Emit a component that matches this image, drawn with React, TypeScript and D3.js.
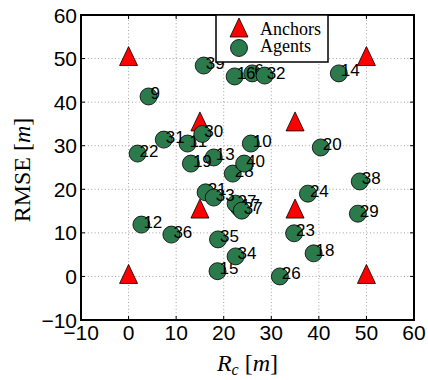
import React from 'react';
import * as d3 from 'd3';

// anchor positions
const anchorX = [0, 0, 50, 50, 15, 15, 35, 35];
const anchorY = [0, 50, 0, 50, 35, 15, 35, 15];

// agents (id, x, y)
const agentId = [6, 9, 10, 11, 12, 13, 14, 15, 16, 17, 18, 19, 20, 21, 22, 23, 24, 26, 27, 28, 29, 30, 31, 32, 33, 34, 35, 36, 37, 38, 39, 40];
const agentX = [26.0, 4.2, 25.7, 12.4, 2.7, 17.9, 44.2, 18.7, 22.3, 23.2, 38.9, 13.1, 40.4, 16.2, 1.9, 34.8, 37.7, 31.8, 22.5, 21.9, 48.2, 15.5, 7.4, 28.6, 17.9, 22.5, 18.8, 9.0, 23.8, 48.6, 15.8, 24.3];
const agentY = [46.6, 41.3, 30.5, 30.5, 11.9, 27.3, 46.6, 1.2, 45.9, 15.8, 5.3, 25.9, 29.6, 19.3, 28.2, 9.9, 19.0, 0.0, 16.7, 23.6, 14.4, 32.7, 31.4, 46.1, 18.1, 4.6, 8.5, 9.6, 15.1, 21.8, 48.4, 25.9];

const xTicks = [-10, 0, 10, 20, 30, 40, 50, 60];
const yTicks = [-10, 0, 10, 20, 30, 40, 50, 60];

const W = 428;
const H = 380;
const margin = { left: 81, right: 14, top: 15, bottom: 60 };

const green = '#2b7a4b';
const sans = '"Liberation Sans", Arial, sans-serif';
const serif = '"Liberation Serif", "Times New Roman", serif';

const tri = (cx: number, cy: number) =>
  `M${cx},${cy - 12}L${cx + 9},${cy + 7}L${cx - 9},${cy + 7}Z`;

const fmt = (v: number) => (v < 0 ? '\u2212' + Math.abs(v) : String(v));

export default function App() {
  const x = d3.scaleLinear().domain([-10, 60]).range([margin.left, W - margin.right]);
  const y = d3.scaleLinear().domain([-10, 60]).range([H - margin.bottom, margin.top]);
  const [x0, x1] = x.range();
  const [y0, y1] = y.range();

  const agents = agentId
    .map((id, i) => ({ id, x: agentX[i], y: agentY[i] }))
    .sort((a, b) => a.id - b.id);

  return (
    <svg width={W} height={H} style={{ position: 'absolute', left: 0, top: 0, background: '#fff' }}>
      {/* grid */}
      <g stroke="#8a8a8a" strokeWidth={0.8} strokeDasharray="1,2.4">
        {xTicks.slice(1, -1).map(t => (
          <line key={'gx' + t} x1={x(t)} x2={x(t)} y1={y0} y2={y1} />
        ))}
        {yTicks.slice(1, -1).map(t => (
          <line key={'gy' + t} x1={x0} x2={x1} y1={y(t)} y2={y(t)} />
        ))}
      </g>

      {/* ticks inward on all sides */}
      <g stroke="#000" strokeWidth={1}>
        {xTicks.map(t => (
          <g key={'tx' + t}>
            <line x1={x(t)} x2={x(t)} y1={y0} y2={y0 - 4} />
            <line x1={x(t)} x2={x(t)} y1={y1} y2={y1 + 4} />
          </g>
        ))}
        {yTicks.map(t => (
          <g key={'ty' + t}>
            <line x1={x0} x2={x0 + 4} y1={y(t)} y2={y(t)} />
            <line x1={x1} x2={x1 - 4} y1={y(t)} y2={y(t)} />
          </g>
        ))}
      </g>

      {/* anchors */}
      {anchorX.map((ax, i) => (
        <path key={'a' + i} d={tri(x(ax), y(anchorY[i]))} fill="#ff0000" stroke="#000" strokeWidth={0.8} />
      ))}

      {/* agents: circle then label, in id order */}
      {agents.map(a => (
        <g key={'g' + a.id}>
          <circle cx={x(a.x)} cy={y(a.y)} r={8.5} fill={green} stroke="#000" strokeWidth={0.8} />
          <text x={x(a.x) + 2} y={y(a.y) + 3} fontFamily={sans} fontSize={17} fill="#000">
            {a.id}
          </text>
        </g>
      ))}

      {/* axes box */}
      <rect x={x0} y={y1} width={x1 - x0} height={y0 - y1} fill="none" stroke="#000" strokeWidth={2} />

      {/* tick labels */}
      {xTicks.map(t => (
        <text key={'lx' + t} x={x(t)} y={340} textAnchor="middle" fontFamily={sans} fontSize={21}>
          {fmt(t)}
        </text>
      ))}
      {yTicks.map(t => (
        <text key={'ly' + t} x={77} y={y(t) + 7.5} textAnchor="end" fontFamily={sans} fontSize={21}>
          {fmt(t)}
        </text>
      ))}

      {/* axis labels */}
      <text x={(x0 + x1) / 2} y={371} textAnchor="middle" fontFamily={serif} fontSize={24}>
        <tspan fontStyle="italic">R</tspan>
        <tspan fontStyle="italic" fontSize={16} dy={4}>c</tspan>
        <tspan dy={-4}> [</tspan>
        <tspan fontStyle="italic">m</tspan>
        <tspan>]</tspan>
      </text>
      <text transform="translate(30,170) rotate(-90)" textAnchor="middle" fontFamily={serif} fontSize={24}>
        <tspan>RMSE [</tspan>
        <tspan fontStyle="italic">m</tspan>
        <tspan>]</tspan>
      </text>

      {/* legend */}
      <g>
        <rect x={216} y={y1} width={112} height={47} fill="#fff" stroke="#000" strokeWidth={1.5} />
        <path d={tri(239, 30)} fill="#ff0000" stroke="#000" strokeWidth={0.8} />
        <circle cx={239} cy={48} r={8.5} fill={green} stroke="#000" strokeWidth={0.8} />
        <text x={260} y={35} fontFamily={serif} fontSize={18}>Anchors</text>
        <text x={260} y={52} fontFamily={serif} fontSize={18}>Agents</text>
      </g>
    </svg>
  );
}
